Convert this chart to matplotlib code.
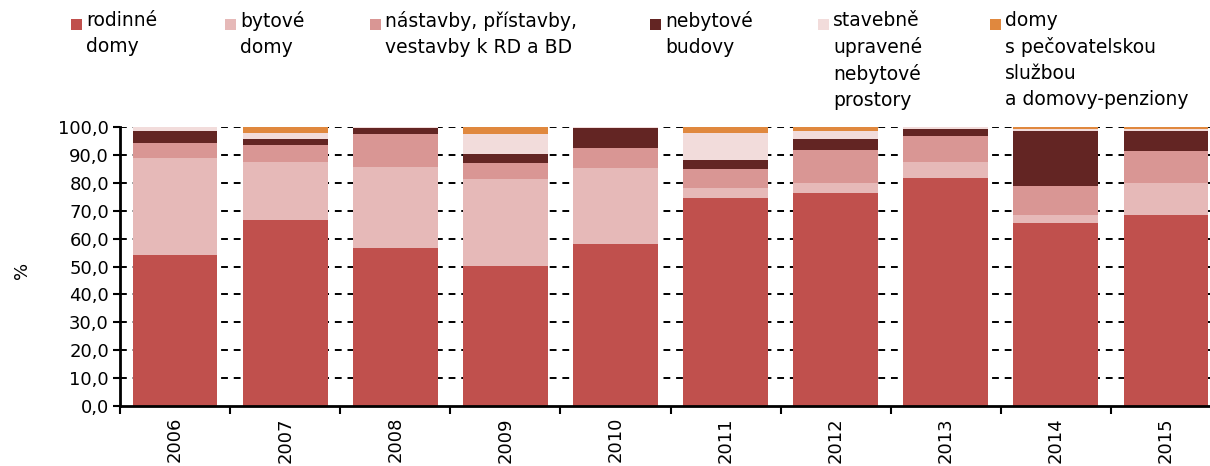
import matplotlib
matplotlib.use("Agg")
import matplotlib.pyplot as plt
from matplotlib.patches import Rectangle
from matplotlib.ticker import FuncFormatter, MultipleLocator
import numpy as np

plt.rcParams["font.family"] = ["DejaVu Sans"]

# data (% of total, per year)
years = ["2006", "2007", "2008", "2009", "2010", "2011", "2012", "2013", "2014", "2015"]
rodinne = [54.1, 66.5, 56.8, 50.3, 58.0, 74.7, 76.4, 81.7, 65.6, 68.6]
bytove = [34.8, 21.0, 28.9, 31.0, 27.4, 3.3, 3.4, 5.7, 2.9, 11.5]
nastavby = [5.4, 5.9, 11.9, 5.9, 7.1, 6.8, 12.1, 9.2, 10.4, 11.4]
nebytove = [4.4, 2.4, 1.9, 3.3, 7.0, 3.2, 3.9, 2.7, 19.8, 7.2]
stavebne = [1.3, 2.2, 0.5, 6.9, 0.5, 9.8, 2.9, 0.6, 0.7, 0.7]
pecovatel = [0.0, 2.0, 0.0, 2.6, 0.0, 2.2, 1.3, 0.1, 0.6, 0.6]

series = [rodinne, bytove, nastavby, nebytove, stavebne, pecovatel]
labels = ["rodinné\ndomy", "bytové\ndomy", "nástavby, přístavby,\nvestavby k RD a BD",
          "nebytové\nbudovy", "stavebně\nupravené\nnebytové\nprostory",
          "domy\ns pečovatelskou\nslužbou\na domovy-penziony"]
colors = ["#C0504D", "#E6B9B8", "#D99694", "#632523", "#F2DCDB", "#E0883E"]

W, H = 1210, 466
fig = plt.figure(figsize=(W / 100, H / 100), dpi=100)
ax = fig.add_axes([120 / W, 1 - 406 / H, (1221 - 120) / W, (406 - 127) / H])

x = np.arange(len(years))
bottom = np.zeros(len(years))
for vals, c in zip(series, colors):
    ax.bar(x, vals, width=0.77, bottom=bottom, color=c, edgecolor="none", zorder=3)
    bottom += np.array(vals)

ax.set_xlim(-0.5, len(years) - 0.5)
ax.set_ylim(0, 100)

# dashed horizontal grid behind bars
for yv in range(10, 101, 10):
    ax.axhline(yv, color="black", lw=1.4, ls=(0, (3.5, 3)), zorder=1)

ax.yaxis.set_major_locator(MultipleLocator(10))
ax.yaxis.set_major_formatter(FuncFormatter(lambda v, p: f"{v:.1f}".replace(".", ",")))
ax.set_xticks(x)
ax.set_xticklabels(years, rotation=90)
ax.set_xticks(np.arange(-0.5, len(years), 1), minor=True)
ax.tick_params(axis="x", which="major", length=0, pad=8, labelsize=13)
ax.tick_params(axis="x", which="minor", length=6, width=1.5, direction="out")
ax.tick_params(axis="y", length=5, width=1.5, direction="out", labelsize=13, pad=3)

for s in ["top", "right"]:
    ax.spines[s].set_visible(False)
for s in ["left", "bottom"]:
    ax.spines[s].set_linewidth(2)
    ax.spines[s].set_zorder(4)

fig.text(22 / W, 1 - 270 / H, "%", rotation=90, ha="center", va="center", fontsize=13)

# legend drawn by hand, as in the source layout
sq_x = [71, 225, 370, 650, 818, 990]
for sx, lab, c in zip(sq_x, labels, colors):
    fig.patches.append(Rectangle((sx / W, 1 - 30 / H), 11 / W, 11 / H,
                                 transform=fig.transFigure, facecolor=c, edgecolor="none"))
    fig.text((sx + 15) / W, 1 - 11 / H, lab, ha="left", va="top", fontsize=13.5,
             linespacing=1.45)

fig.savefig("out.png", dpi=100)
